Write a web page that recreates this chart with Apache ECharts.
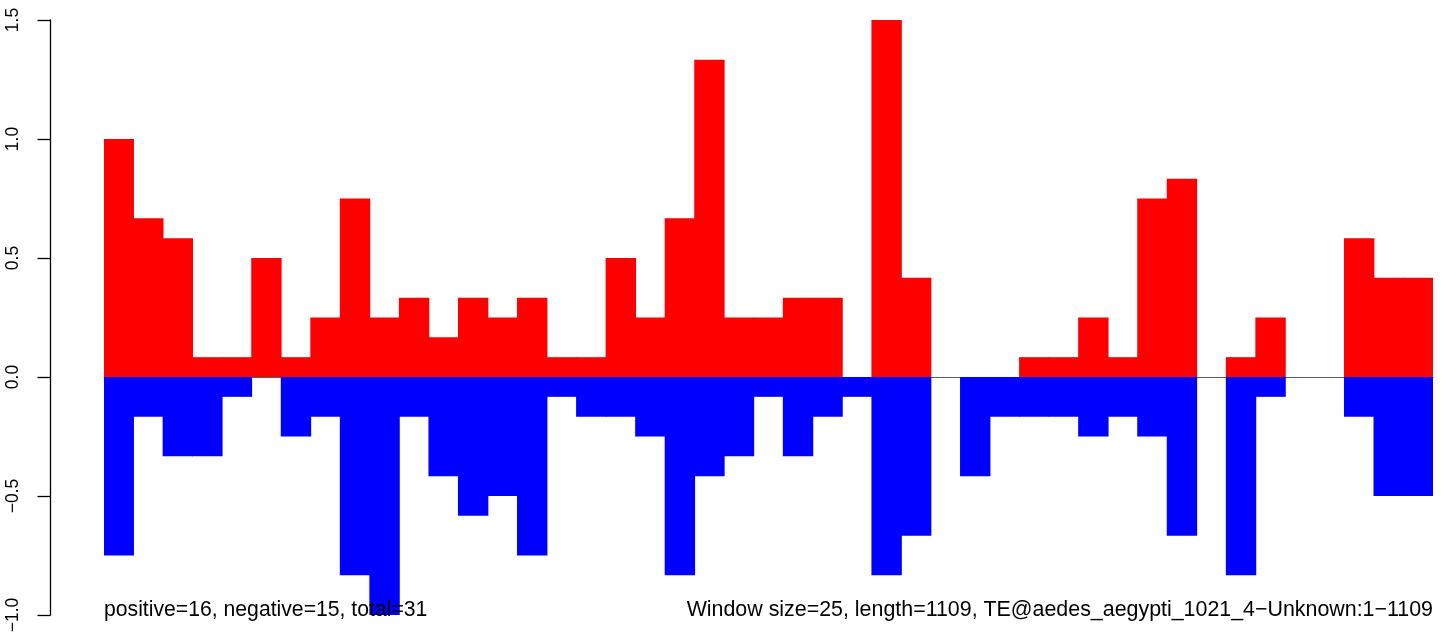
<!DOCTYPE html>
<html>
<head>
<meta charset="utf-8">
<script src="https://cdn.jsdelivr.net/npm/echarts@6/dist/echarts.min.js"></script>
<style>
html,body{margin:0;padding:0;background:#fff;}
#chart{width:1444px;height:638px;}
</style>
</head>
<body>
<div id="chart"></div>
<script>
// Window indices (45 windows of size 25 over length 1109)
const windows = [1,2,3,4,5,6,7,8,9,10,11,12,13,14,15,16,17,18,19,20,21,22,23,24,25,26,27,28,29,30,31,32,33,34,35,36,37,38,39,40,41,42,43,44,45];

// Positive-strand values per window
const positiveValues = [1.0, 0.6667, 0.5833, 0.0833, 0.0833, 0.5, 0.0833, 0.25, 0.75, 0.25,
  0.3333, 0.1667, 0.3333, 0.25, 0.3333, 0.0833, 0.0833, 0.5, 0.25, 0.6667,
  1.3333, 0.25, 0.25, 0.3333, 0.3333, 0, 1.5, 0.4167, 0, 0,
  0, 0.0833, 0.0833, 0.25, 0.0833, 0.75, 0.8333, 0, 0.0833, 0.25,
  0, 0, 0.5833, 0.4167, 0.4167];

// Negative-strand values per window
const negativeValues = [-0.75, -0.1667, -0.3333, -0.3333, -0.0833, 0, -0.25, -0.1667, -0.8333, -1.0,
  -0.1667, -0.4167, -0.5833, -0.5, -0.75, -0.0833, -0.1667, -0.1667, -0.25, -0.8333,
  -0.4167, -0.3333, -0.0833, -0.3333, -0.1667, -0.0833, -0.8333, -0.6667, 0, -0.4167,
  -0.1667, -0.1667, -0.1667, -0.25, -0.1667, -0.25, -0.6667, 0, -0.8333, -0.0833,
  0, 0, -0.1667, -0.5, -0.5];

// Y axis tick labels
const yTickValues = [-1.0, -0.5, 0.0, 0.5, 1.0, 1.5];
const yTickLabels = ['\u22121.0', '\u22120.5', '0.0', '0.5', '1.0', '1.5'];

const leftNote = 'positive=16, negative=15, total=31';
const rightNote = 'Window size=25, length=1109, TE@aedes_aegypti_1021_4\u2212Unknown:1\u22121109';

const FONT = '"Liberation Sans", Arial, Helvetica, sans-serif';

const chart = echarts.init(document.getElementById('chart'), null, {renderer: 'canvas'});
chart.setOption({
  animation: false,
  backgroundColor: '#ffffff',
  grid: {left: 104, right: 11, top: 20, bottom: 23, containLabel: false},
  xAxis: {
    type: 'category',
    data: windows,
    boundaryGap: true,
    axisLine: {show: true, onZero: true, lineStyle: {color: '#5a5a5a', width: 1}},
    axisTick: {show: false},
    axisLabel: {show: false},
    splitLine: {show: false}
  },
  yAxis: {
    type: 'value',
    min: -1.0,
    max: 1.5,
    interval: 0.5,
    offset: 53.5,
    axisLine: {show: true, lineStyle: {color: '#000', width: 1.3}},
    axisTick: {show: true, inside: false, length: 13, lineStyle: {color: '#000', width: 1.3}},
    axisLabel: {
      show: true,
      rotate: 90,
      margin: 28,
      fontSize: 17.5,
      fontFamily: FONT,
      color: '#000',
      formatter: function (v) {
        const i = yTickValues.findIndex(t => Math.abs(t - v) < 1e-6);
        return i >= 0 ? yTickLabels[i] : '';
      }
    },
    splitLine: {show: false}
  },
  series: [
    {
      name: 'positive',
      type: 'bar',
      data: positiveValues,
      barGap: '-100%',
      barWidth: 30.4,
      itemStyle: {color: '#ff0000', borderWidth: 0},
      emphasis: {disabled: true}
    },
    {
      name: 'negative',
      type: 'bar',
      data: negativeValues,
      barGap: '-100%',
      barWidth: 30.4,
      itemStyle: {color: '#0000ff', borderWidth: 0},
      emphasis: {disabled: true}
    }
  ],
  graphic: [
    {
      type: 'text',
      z: 100,
      style: {x: 104, y: 610, text: leftNote, font: '21.2px ' + FONT, fill: '#000', textAlign: 'left', textVerticalAlign: 'middle'}
    },
    {
      type: 'text',
      z: 100,
      style: {x: 1433, y: 610, text: rightNote, font: '21.4px ' + FONT, fill: '#000', textAlign: 'right', textVerticalAlign: 'middle'}
    }
  ]
});
</script>
</body>
</html>
